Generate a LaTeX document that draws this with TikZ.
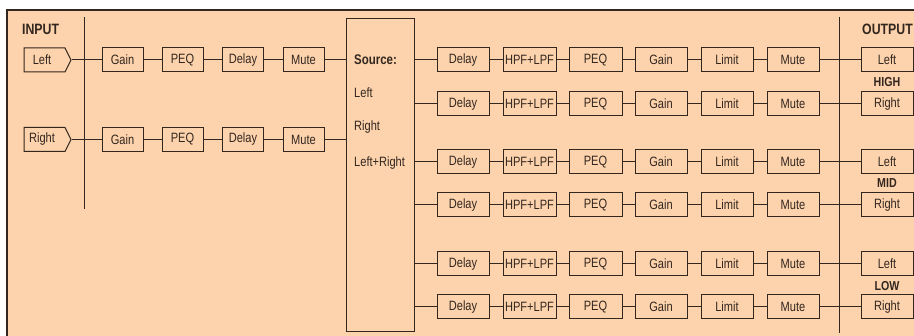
\documentclass[tikz,border=0pt]{standalone}
\usepackage{fontspec}
\setmainfont{Liberation Sans}[FakeStretch=0.82]
\usetikzlibrary{shapes.symbols}
\definecolor{bg}{HTML}{FCD3AC}
\definecolor{ink}{HTML}{33261F}
\begin{document}
\begin{tikzpicture}[x=1pt,y=-1pt,
  box/.style={draw=ink, line width=1pt, minimum height=24pt, inner sep=0pt, text=ink, font=\fontsize{13.5}{13.5}\selectfont},
  inbox/.style={box, signal, signal to=east, signal pointer angle=126, minimum width=47pt},
  wire/.style={draw=ink, line width=1pt},
  head/.style={text=ink, inner sep=0pt, anchor=west, font=\fontsize{15}{15}\selectfont\bfseries},
  band/.style={text=ink, inner sep=0pt, font=\fontsize{13}{13}\selectfont\bfseries},
  srclab/.style={text=ink, inner sep=0pt, anchor=west, font=\fontsize{13.5}{13.5}\selectfont}]
\useasboundingbox (0,0) rectangle (914,336);
% frame
\fill[bg] (7,10) rectangle (914,336);
\draw[ink, line width=2pt] (914,10) -- (7,10);
\draw[ink, line width=1.4pt] (7,9) -- (7,336);
% headings
\node[head] (inhead) at (22,29) {INPUT};
\node[head] (outhead) at (862,29) {OUTPUT};
% bus lines
\coordinate (inbusT) at (84,17);
\coordinate (inbusB) at (84,209);
\coordinate (outbusT) at (839,17);
\coordinate (outbusB) at (839,333);
\draw[wire] (inbusT) -- (inbusB);
\draw[wire] (outbusT) -- (outbusB);
% source box
\node[box, minimum width=68pt, minimum height=313pt] (src) at (380,175.5) {};
\node[srclab, font=\fontsize{14}{14}\selectfont\bfseries] (srct) at (354,60) {Source:};
\node[srclab] (srcl) at (354,93) {Left};
\node[srclab] (srcr) at (354,127) {Right};
\node[srclab] (srclr) at (354,163) {Left+Right};
% input chains
\foreach \n/\y/\lab in {L/60/Left, R/139.5/Right} {
  \node[inbox] (in\n) at (44.5,\y) {\hspace*{-5pt}\lab};
  \node[box, minimum width=41pt] (ig\n) at (122.5,\y) {Gain};
  \node[box, minimum width=41pt] (ip\n) at (182.5,\y) {PEQ};
  \node[box, minimum width=41pt] (id\n) at (243,\y) {Delay};
  \node[box, minimum width=41pt] (im\n) at (303.5,\y) {Mute};
  \draw[wire] (in\n.east) -- (ig\n.west);
  \draw[wire] (ig\n.east) -- (ip\n.west);
  \draw[wire] (ip\n.east) -- (id\n.west);
  \draw[wire] (id\n.east) -- (im\n.west);
  \draw[wire] (im\n.east) -- (im\n.east -| src.west);
}
% output chains
\foreach \i/\y/\lab in {1/60/Left, 2/104/Right, 3/162/Left, 4/205/Right, 5/264/Left, 6/307/Right} {
  \node[box, minimum width=52pt] (d\i) at (463,\y) {Delay};
  \node[box, minimum width=53pt] (h\i) at (529.5,\y) {HPF+LPF};
  \node[box, minimum width=53pt] (p\i) at (595.5,\y) {PEQ};
  \node[box, minimum width=52pt] (g\i) at (661,\y) {Gain};
  \node[box, minimum width=52pt] (l\i) at (727,\y) {Limit};
  \node[box, minimum width=52pt] (m\i) at (793,\y) {Mute};
  \node[box, minimum width=52pt] (o\i) at (887,\y) {\lab};
  \draw[wire] (src.east |- d\i.west) -- (d\i.west);
  \draw[wire] (d\i.east) -- (h\i.west);
  \draw[wire] (h\i.east) -- (p\i.west);
  \draw[wire] (p\i.east) -- (g\i.west);
  \draw[wire] (g\i.east) -- (l\i.west);
  \draw[wire] (l\i.east) -- (m\i.west);
  \draw[wire] (m\i.east) -- (o\i.west);
}
% band labels
\node[band] (high) at (887,82) {HIGH};
\node[band] (mid) at (887,183) {MID};
\node[band] (low) at (887,286) {LOW};
\end{tikzpicture}
\end{document}
